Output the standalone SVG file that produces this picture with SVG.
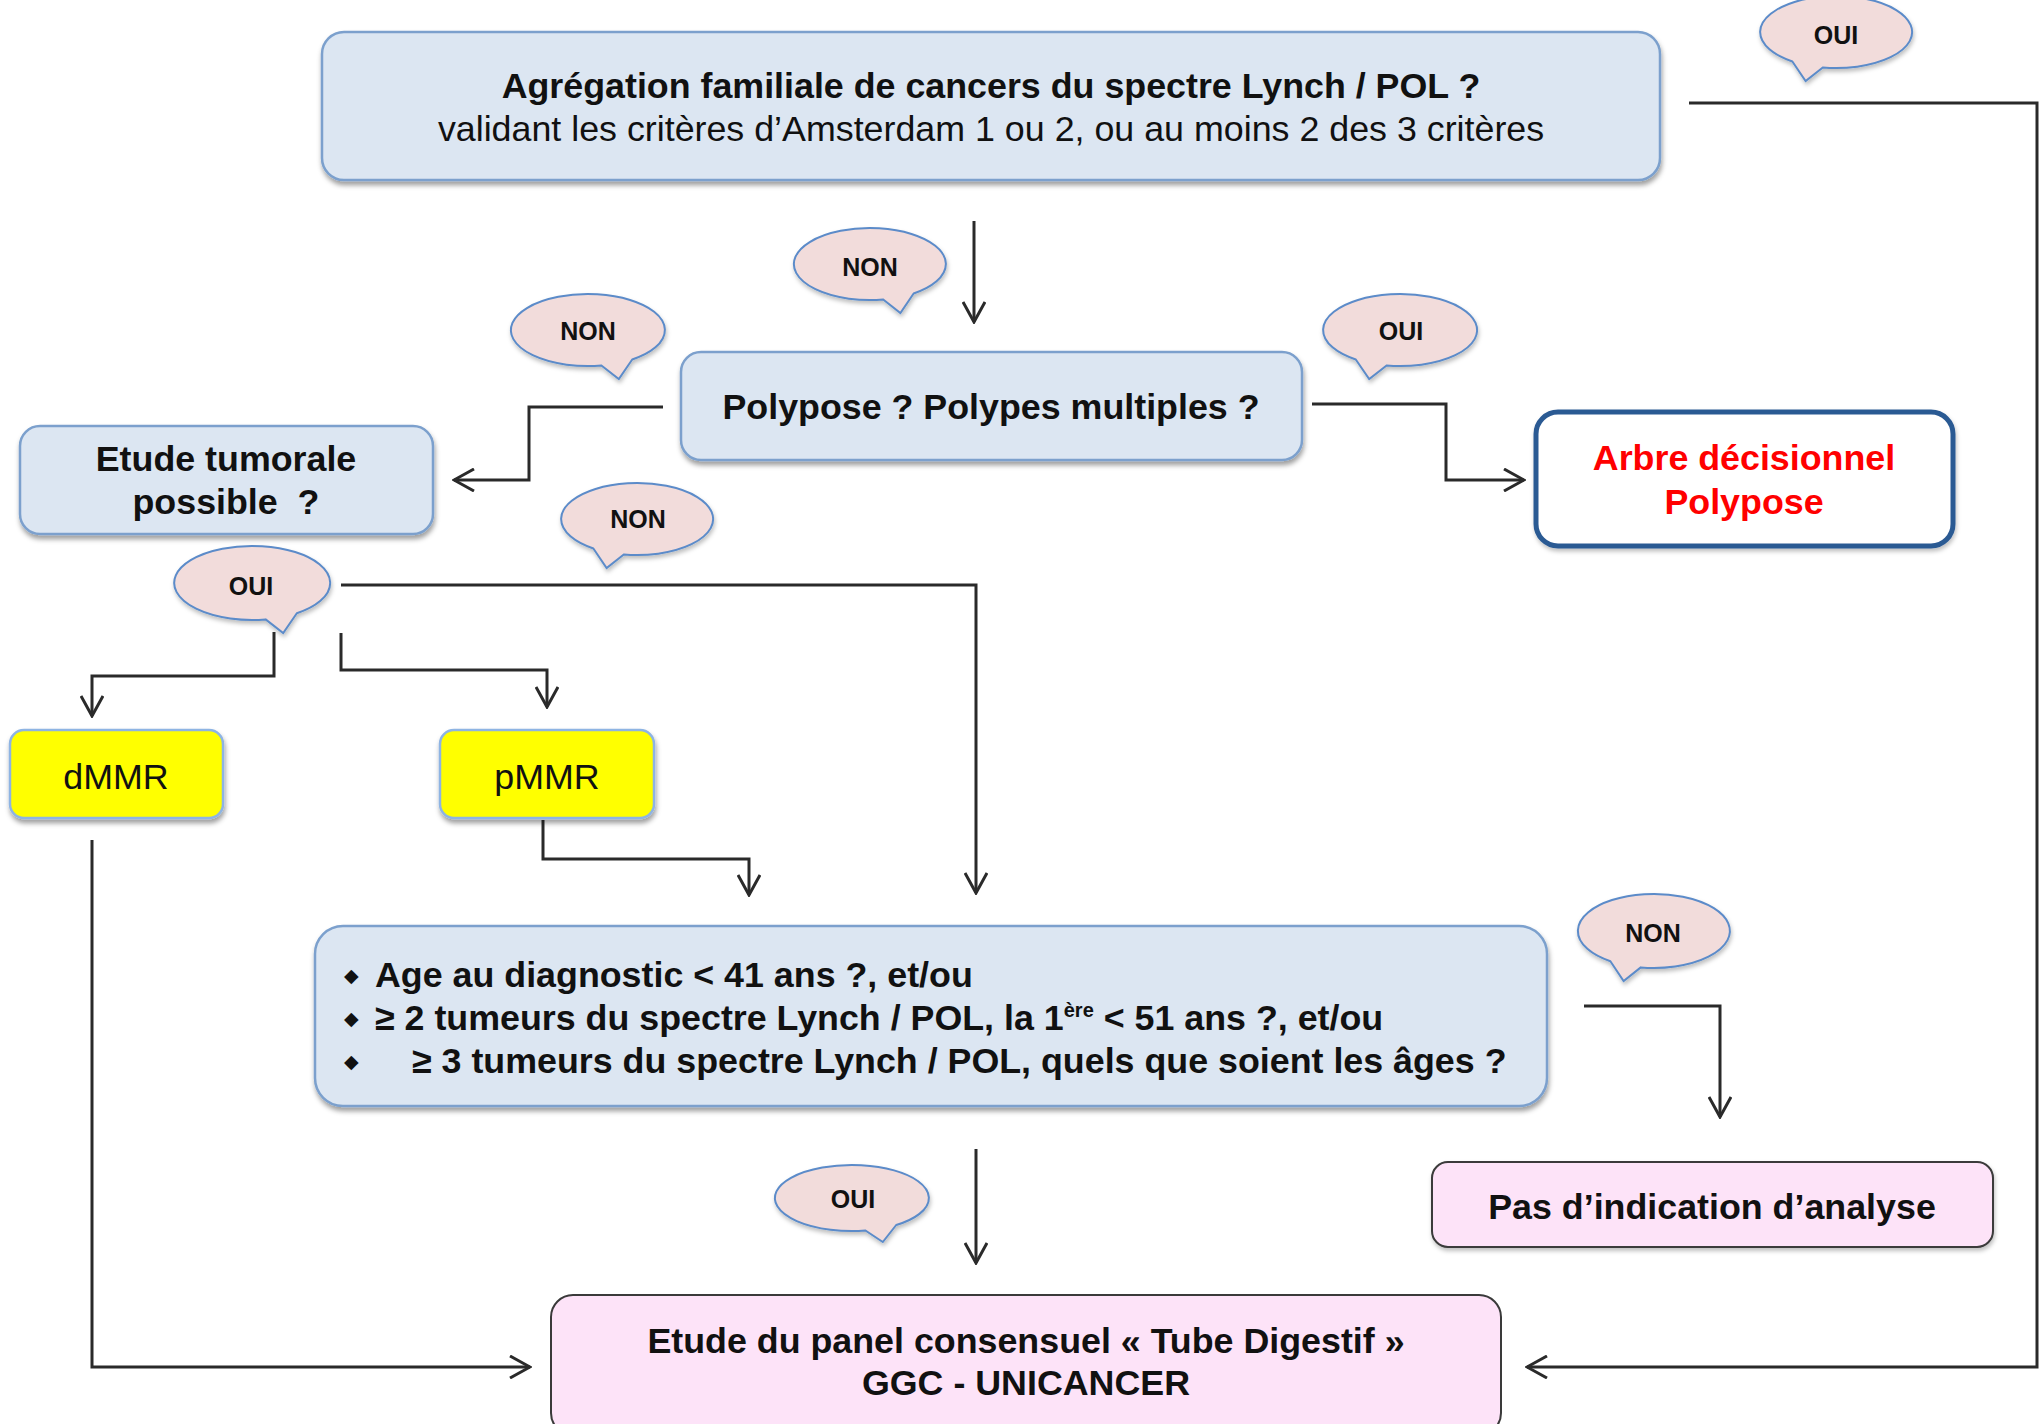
<svg xmlns="http://www.w3.org/2000/svg" width="2041" height="1424" viewBox="0 0 2041 1424">
<style>
text{font-family:"Liberation Sans",Arial,Helvetica,sans-serif;fill:#111;}
.b{font-weight:bold;font-size:35.8px;}
.r{font-size:35.8px;}
.c{text-anchor:middle;}
.lbl{font-weight:bold;font-size:25px;text-anchor:middle;}
.blue{fill:#dce6f2;stroke:#7ba0cd;stroke-width:2.5;}
.yel{fill:#ffff00;stroke:#8eb4e3;stroke-width:2.5;}
.pink{fill:#fde3f8;stroke:#3a3a3a;stroke-width:2;}
.arbre{fill:#ffffff;stroke:#2c5a93;stroke-width:5;}
.bub{fill:#f2dcdb;stroke:#5b8bc9;stroke-width:2;}
.con path{fill:none;stroke:#2a2a2a;stroke-width:3;}
.red{fill:#ff0000;}
.bul{font-family:"DejaVu Sans",sans-serif;font-size:19px;}
</style>
<defs>
<filter id="sh" x="-5%" y="-10%" width="110%" height="130%">
<feDropShadow dx="1" dy="4" stdDeviation="2.5" flood-color="#000" flood-opacity="0.38"/>
</filter>
<filter id="shb" x="-10%" y="-10%" width="120%" height="140%">
<feDropShadow dx="1" dy="3" stdDeviation="2" flood-color="#000" flood-opacity="0.25"/>
</filter>
<marker id="ar" viewBox="0 0 24 24" markerWidth="24" markerHeight="24" refX="22" refY="12" orient="auto" markerUnits="userSpaceOnUse">
<path d="M2,1 L22,12 L2,23" fill="none" stroke="#2a2a2a" stroke-width="3"/>
</marker>
</defs>
<rect width="2041" height="1424" fill="#ffffff"/>

<g id="connectors" class="con">
<path d="M974,221 V322" marker-end="url(#ar)"/>
<path d="M1689,103 H2037 V1367 H1527" marker-end="url(#ar)"/>
<path d="M663,407 H529 V480 H454" marker-end="url(#ar)"/>
<path d="M1312,404 H1446 V480 H1524" marker-end="url(#ar)"/>
<path d="M341,585 H976 V893" marker-end="url(#ar)"/>
<path d="M274,632 V676 H92 V716" marker-end="url(#ar)"/>
<path d="M341,633 V670 H547 V707" marker-end="url(#ar)"/>
<path d="M543,820 V859 H749 V895" marker-end="url(#ar)"/>
<path d="M92,840 V1367 H530" marker-end="url(#ar)"/>
<path d="M976,1149 V1263" marker-end="url(#ar)"/>
<path d="M1584,1006 H1720 V1117" marker-end="url(#ar)"/>
</g>

<g id="n-agregation">
<rect class="blue" x="322" y="32" width="1338" height="148" rx="22" filter="url(#sh)"/>
<text class="b c" x="991" y="98">Agrégation familiale de cancers du spectre Lynch / POL ?</text>
<text class="r c" x="991" y="141">validant les critères d’Amsterdam 1 ou 2, ou au moins 2 des 3 critères</text>
</g>

<g id="n-polypose">
<rect class="blue" x="681" y="352" width="621" height="108" rx="20" filter="url(#sh)"/>
<text class="b c" x="991" y="419">Polypose ? Polypes multiples ?</text>
</g>

<g id="n-etude-tumorale">
<rect class="blue" x="20" y="426" width="413" height="108" rx="20" filter="url(#sh)"/>
<text class="b c" x="226" y="471">Etude tumorale</text>
<text class="b c" x="226" y="514" xml:space="preserve">possible  ?</text>
</g>

<g id="n-arbre">
<rect class="arbre" x="1536" y="412" width="417" height="134" rx="22" filter="url(#shb)"/>
<text class="b c red" x="1744" y="470">Arbre décisionnel</text>
<text class="b c red" x="1744" y="514">Polypose</text>
</g>

<g id="n-dmmr">
<rect class="yel" x="10" y="730" width="213" height="88" rx="14" filter="url(#sh)"/>
<text class="r c" x="116" y="789">dMMR</text>
</g>

<g id="n-pmmr">
<rect class="yel" x="440" y="730" width="214" height="88" rx="14" filter="url(#sh)"/>
<text class="r c" x="547" y="789">pMMR</text>
</g>

<g id="n-criteres">
<rect class="blue" x="315" y="926" width="1232" height="180" rx="28" filter="url(#sh)"/>
<text class="bul" x="344" y="982">◆</text>
<text class="b" x="375" y="987">Age au diagnostic &lt; 41 ans ?, et/ou</text>
<text class="bul" x="344" y="1025">◆</text>
<text class="b" x="375" y="1030">≥ 2 tumeurs du spectre Lynch / POL, la 1<tspan font-size="20" dy="-13">ère</tspan><tspan dy="13"> &lt; 51 ans ?, et/ou</tspan></text>
<text class="bul" x="344" y="1068">◆</text>
<text class="b" x="412" y="1073">≥ 3 tumeurs du spectre Lynch / POL, quels que soient les âges ?</text>
</g>

<g id="n-pas-indication">
<rect class="pink" x="1432" y="1162" width="561" height="85" rx="16" filter="url(#shb)"/>
<text class="b c" x="1712" y="1219">Pas d’indication d’analyse</text>
</g>

<g id="n-panel">
<rect class="pink" x="551" y="1295" width="950" height="140" rx="22"/>
<text class="b c" x="1026" y="1353">Etude du panel consensuel « Tube Digestif »</text>
<text class="b c" x="1026" y="1395">GGC - UNICANCER</text>
</g>

<g id="bubble-oui-top">
<path class="bub" filter="url(#shb)" d="M1792.4,61.5 A76,36 0 1 1 1822.8,67.5 L1805.6,81 Z"/>
<text class="lbl" x="1836" y="44">OUI</text>
</g>
<g id="bubble-non-1">
<path class="bub" filter="url(#shb)" d="M883.2,299.5 A76,36 0 1 1 913.6,293.5 L900.4,313 Z"/>
<text class="lbl" x="870" y="276">NON</text>
</g>
<g id="bubble-non-2">
<path class="bub" filter="url(#shb)" d="M601.4,365.5 A77,36 0 1 1 632.2,359.5 L618.8,379 Z"/>
<text class="lbl" x="588" y="340">NON</text>
</g>
<g id="bubble-oui-polypose">
<path class="bub" filter="url(#shb)" d="M1355.8,359.5 A77,36 0 1 1 1386.6,365.5 L1369.2,379 Z"/>
<text class="lbl" x="1401" y="340">OUI</text>
</g>
<g id="bubble-non-3">
<path class="bub" filter="url(#shb)" d="M593.4,548.5 A76,36 0 1 1 623.8,554.5 L606.6,568 Z"/>
<text class="lbl" x="638" y="528">NON</text>
</g>
<g id="bubble-oui-etude">
<path class="bub" filter="url(#shb)" d="M265.6,619.4 A78,37 0 1 1 296.8,613.3 L283.2,633 Z"/>
<text class="lbl" x="251" y="595">OUI</text>
</g>
<g id="bubble-non-4">
<path class="bub" filter="url(#shb)" d="M1610.4,961.3 A76,37 0 1 1 1640.8,967.4 L1623.6,981 Z"/>
<text class="lbl" x="1653" y="942">NON</text>
</g>
<g id="bubble-oui-bottom">
<path class="bub" filter="url(#shb)" d="M865.4,1230.5 A77,33 0 1 1 896.2,1225 L882.8,1242 Z"/>
<text class="lbl" x="853" y="1208">OUI</text>
</g>
</svg>
